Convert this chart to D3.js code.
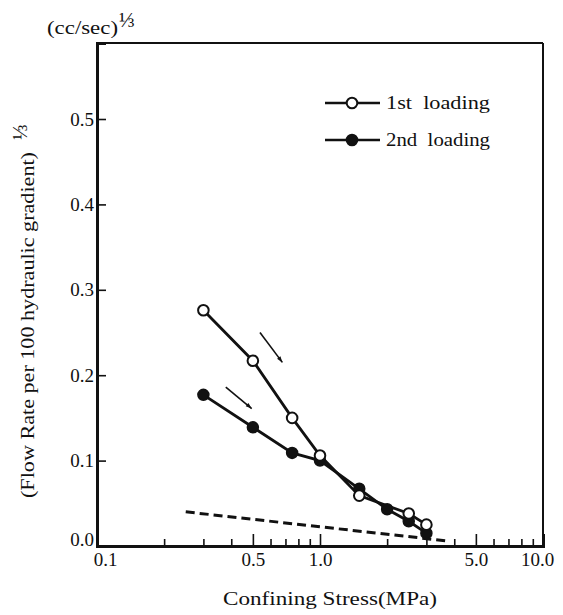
<!DOCTYPE html>
<html>
<head>
<meta charset="utf-8">
<script src="https://cdn.jsdelivr.net/npm/d3@7"></script>
<style>
  html, body { margin: 0; padding: 0; background: #fff; }
  svg { display: block; }
  text { font-family: "Liberation Serif", "DejaVu Serif", serif; fill: #111; }
</style>
</head>
<body>
<svg id="chart" width="563" height="615"></svg>
<script>
// ---- data ----
const stress1 = [0.3, 0.5, 0.75, 1.0, 1.5, 2.5, 3.0];
const flow1   = [0.276, 0.217, 0.150, 0.106, 0.059, 0.038, 0.025];
const stress2 = [0.3, 0.5, 0.75, 1.0, 1.5, 2.0, 2.5, 3.0];
const flow2   = [0.177, 0.139, 0.109, 0.100, 0.067, 0.043, 0.029, 0.015];
const dashStress = [0.25, 3.7];
const dashFlow   = [0.040, 0.006];
const arrowsFrom = [[0.538, 0.250], [0.378, 0.186]];
const arrowsTo   = [[0.678, 0.215], [0.494, 0.161]];
const xMajorTicks = [0.1, 0.5, 1.0, 5.0, 10.0];
const xMajorLabels = ["0.1", "0.5", "1.0", "5.0", "10.0"];
const xMinorTicks = [0.2, 0.3, 0.4, 0.6, 0.7, 0.8, 0.9, 2, 3, 4, 6, 7, 8, 9];
const yTicks = [0.0, 0.1, 0.2, 0.3, 0.4, 0.5];
const seriesNames = ["1st  loading", "2nd  loading"];

// ---- layout ----
const L = 97, R = 543, T = 43, B = 546;
const FONT = "Liberation Serif";
const svg = d3.select("#chart");
const x = d3.scaleLog().domain([0.1, 10]).range([L, R]);
const y = d3.scaleLinear().domain([0, 0.589]).range([B, T]);

// frame: top and right thinner
svg.append("line").attr("x1", L).attr("x2", R).attr("y1", T).attr("y2", T)
  .attr("stroke", "#111").attr("stroke-width", 2);
svg.append("line").attr("x1", R).attr("x2", R).attr("y1", T).attr("y2", B)
  .attr("stroke", "#111").attr("stroke-width", 2);

// x axis: minor ticks
const gxMinor = svg.append("g").attr("transform", `translate(0,${B})`)
  .call(d3.axisBottom(x).tickValues(xMinorTicks).tickSize(-7).tickFormat(""));
// x axis: major ticks with labels
const gx = svg.append("g").attr("transform", `translate(0,${B})`)
  .call(d3.axisBottom(x).tickValues(xMajorTicks).tickSize(-12).tickPadding(7)
    .tickFormat((d, i) => xMajorLabels[i]));
[gxMinor, gx].forEach(g => {
  g.select(".domain").attr("stroke", "#111").attr("stroke-width", 3);
  g.selectAll(".tick line").attr("stroke", "#111").attr("stroke-width", 1.6);
});
gx.selectAll(".tick text").attr("font-size", 19).attr("font-family", FONT)
  .attr("fill", "#111")
  .attr("dx", (d, i) => i === 0 ? 8 : (i === xMajorLabels.length - 1 ? -6 : 0));

// y axis
const gy = svg.append("g").attr("transform", `translate(${L},0)`)
  .call(d3.axisLeft(y).tickValues(yTicks).tickSize(-9).tickPadding(3).tickFormat(d3.format(".1f")));
gy.select(".domain").attr("stroke", "#111").attr("stroke-width", 3);
gy.selectAll(".tick line").attr("stroke", "#111").attr("stroke-width", 1.6);
gy.selectAll(".tick text").attr("font-size", 19).attr("font-family", FONT)
  .attr("fill", "#111").attr("dy", (d) => d === 0 ? "-0.05em" : "0.32em");

// dashed reference line
const line = d3.line().x(d => x(d[0])).y(d => y(d[1]));
svg.append("path")
  .datum(dashStress.map((s, i) => [s, dashFlow[i]]))
  .attr("d", line).attr("fill", "none").attr("stroke", "#111")
  .attr("stroke-width", 3).attr("stroke-dasharray", "9,5");

// series lines
const d1 = stress1.map((s, i) => [s, flow1[i]]);
const d2 = stress2.map((s, i) => [s, flow2[i]]);
svg.append("path").datum(d2).attr("d", line).attr("fill", "none")
  .attr("stroke", "#111").attr("stroke-width", 2.8);
svg.append("path").datum(d1).attr("d", line).attr("fill", "none")
  .attr("stroke", "#111").attr("stroke-width", 2.8);
svg.selectAll("circle.s2").data(d2).enter().append("circle").attr("class", "s2")
  .attr("cx", d => x(d[0])).attr("cy", d => y(d[1])).attr("r", 5.5)
  .attr("fill", "#111").attr("stroke", "#111").attr("stroke-width", 1.5);
svg.selectAll("circle.s1").data(d1).enter().append("circle").attr("class", "s1")
  .attr("cx", d => x(d[0])).attr("cy", d => y(d[1])).attr("r", 5.3)
  .attr("fill", "#fff").attr("stroke", "#111").attr("stroke-width", 2);

// arrows
const defs = svg.append("defs");
defs.append("marker").attr("id", "ah").attr("viewBox", "0 0 10 10")
  .attr("refX", 10).attr("refY", 5).attr("markerWidth", 9).attr("markerHeight", 6)
  .attr("markerUnits", "userSpaceOnUse").attr("orient", "auto")
  .append("path").attr("d", "M0,1.5 L10,5 L0,8.5 Z").attr("fill", "#111");
arrowsFrom.forEach((a, i) => {
  const b = arrowsTo[i];
  svg.append("line").attr("x1", x(a[0])).attr("y1", y(a[1]))
    .attr("x2", x(b[0])).attr("y2", y(b[1]))
    .attr("stroke", "#111").attr("stroke-width", 1.6).attr("marker-end", "url(#ah)");
});

// legend
const legY = [103, 140];
seriesNames.forEach((name, i) => {
  const g = svg.append("g").attr("transform", `translate(0,${legY[i]})`);
  g.append("line").attr("x1", 325).attr("x2", 380).attr("y1", 0).attr("y2", 0)
    .attr("stroke", "#111").attr("stroke-width", 2.4);
  g.append("circle").attr("cx", 352).attr("cy", 0).attr("r", 5.3)
    .attr("fill", i === 0 ? "#fff" : "#111").attr("stroke", "#111").attr("stroke-width", 2);
  g.append("text").attr("x", 386).attr("y", 6).attr("font-size", 19)
    .attr("textLength", 104).attr("lengthAdjust", "spacingAndGlyphs")
    .style("white-space", "pre").text(name);
});

// axis titles
svg.append("text").attr("x", 330).attr("y", 605).attr("text-anchor", "middle")
  .attr("font-size", 19).attr("textLength", 214).attr("lengthAdjust", "spacingAndGlyphs")
  .text("Confining Stress(MPa)");

svg.append("text").attr("transform", "translate(34,498) rotate(-90)")
  .attr("x", 0).attr("y", 0).attr("font-size", 18)
  .attr("textLength", 346).attr("lengthAdjust", "spacingAndGlyphs")
  .text("(Flow Rate per 100 hydraulic gradient)");
svg.append("text").attr("transform", "translate(27,140) rotate(-90)")
  .attr("x", 0).attr("y", 0).attr("font-size", 21).text("⅓");

svg.append("text").attr("x", 47).attr("y", 34).attr("font-size", 18)
  .attr("textLength", 71).attr("lengthAdjust", "spacingAndGlyphs").text("(cc/sec)");
svg.append("text").attr("x", 119).attr("y", 27).attr("font-size", 21).text("⅓");
</script>
</body>
</html>
